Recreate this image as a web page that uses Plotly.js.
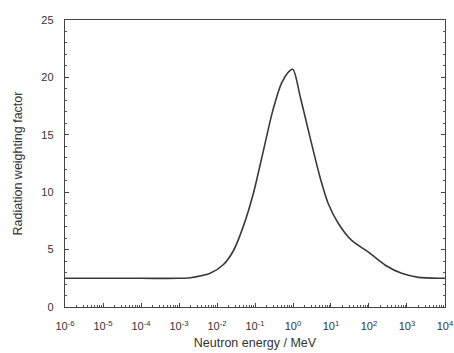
<!DOCTYPE html>
<html><head><meta charset="utf-8">
<script src="https://cdn.plot.ly/plotly-3.0.1.min.js"></script>
<style>html,body{margin:0;padding:0;background:#fff}</style>
</head><body><div id="chart" style="width:454px;height:353px"></div>
<script>
// Neutron energy (MeV) and radiation weighting factor
const energy = [1e-6, 1e-5, 1e-4, 1e-3, 2.0e-3, 6.6e-3, 1.48e-2, 2.7e-2, 4.9e-2, 8.9e-2, 0.166, 0.288, 0.5, 0.83, 1.0,
                1.58, 2.8, 5.1, 8.5, 15.5, 35, 95, 263, 724, 2000, 8100, 1e4];
const wR = [2.5, 2.5, 2.5, 2.5, 2.55, 2.93, 3.7, 4.9, 7.0, 9.8, 13.6, 17.0, 19.5, 20.6, 20.7,
            18.2, 14.8, 11.35, 9.0, 7.3, 5.8, 4.8, 3.66, 2.93, 2.58, 2.5, 2.5];
const tickExponents = [-6, -5, -4, -3, -2, -1, 0, 1, 2, 3, 4];
const minorMantissas = [2, 3, 4, 5, 6, 7, 8, 9];
const xTitle = "Neutron energy / MeV";
const yTitle = "Radiation weighting factor";

const tickVals = tickExponents.map(n => Math.pow(10, n));
const tickText = tickExponents.map(n => '10<sup>' + n + '</sup>');
const minorVals = [];
tickExponents.slice(0, -1).forEach(n => minorMantissas.forEach(m => minorVals.push(m * Math.pow(10, n))));

const trace = {x: energy, y: wR, type: 'scatter', mode: 'lines',
  line: {color: '#3a3a3a', width: 1.6, shape: 'spline', smoothing: 0.8}};
const font = {family: 'Liberation Sans, Arial, sans-serif', color: '#333', size: 11};
const layout = {
  width: 454, height: 353,
  margin: {l: 65, r: 9, t: 20, b: 46},
  paper_bgcolor: '#fff', plot_bgcolor: '#fff',
  showlegend: false,
  font: font,
  xaxis: {type: 'log', range: [-6.0005, 4.0005], tickmode: 'array', tickvals: tickVals, ticktext: tickText,
    showgrid: false, zeroline: false, showline: true, mirror: true, linecolor: '#444', linewidth: 1.2,
    ticks: 'inside', ticklen: 4, tickcolor: '#444', tickfont: {size: 11, color: '#333'}, ticklabelstandoff: 9,
    minor: {tickmode: 'array', tickvals: minorVals, ticks: 'inside', ticklen: 2, tickcolor: '#555', showgrid: false},
    title: {text: xTitle, font: {size: 12.5, color: '#333'}, standoff: 6}},
  yaxis: {range: [0, 25], dtick: 5,
    showgrid: false, zeroline: false, showline: true, mirror: 'ticks', linecolor: '#444', linewidth: 1.2,
    ticks: 'inside', ticklen: 4, tickcolor: '#444', tickfont: {size: 11, color: '#333'}, ticklabelstandoff: 8,
    minor: {dtick: 1, ticks: 'inside', ticklen: 2, tickcolor: '#555', showgrid: false},
    title: {text: yTitle, font: {size: 12.5, color: '#333'}, standoff: 16}}
};
Plotly.newPlot('chart', [trace], layout, {staticPlot: true, displayModeBar: false});
</script></body></html>
